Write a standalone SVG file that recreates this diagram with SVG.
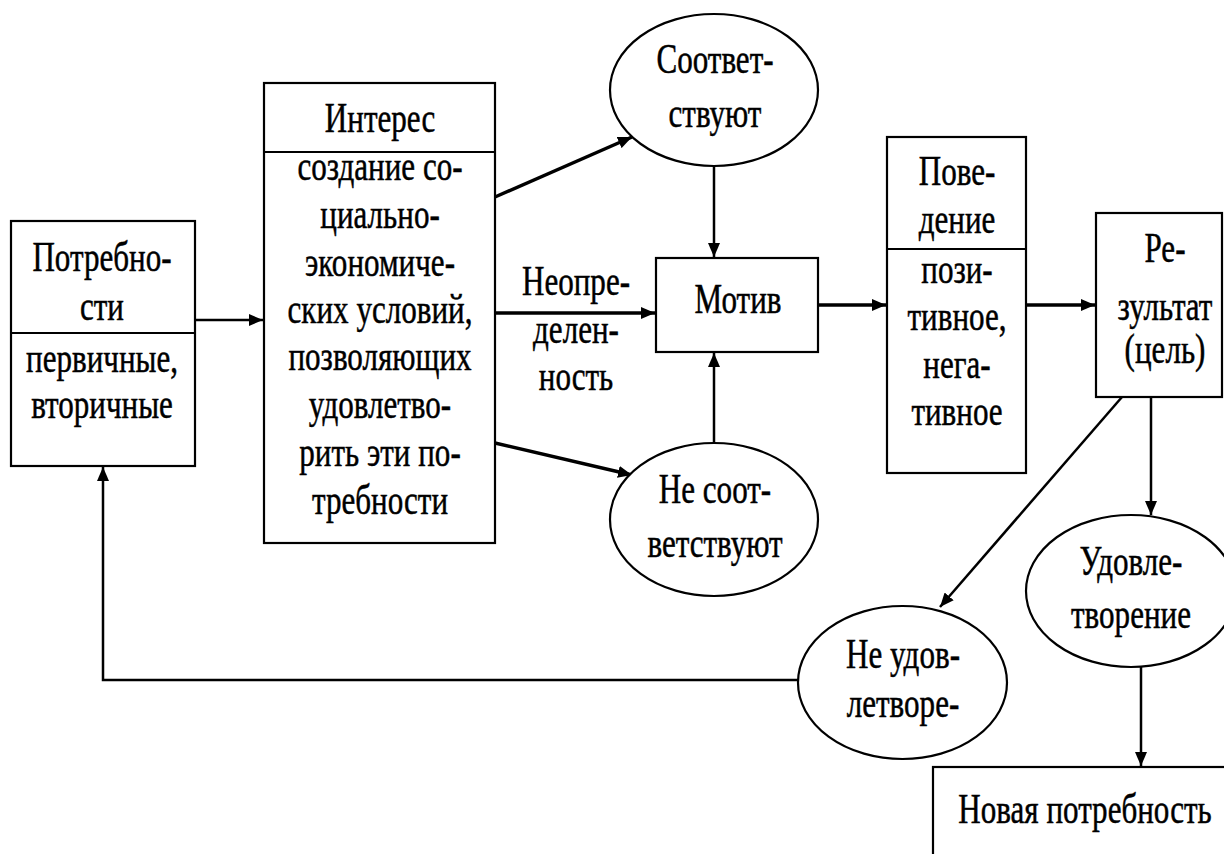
<svg xmlns="http://www.w3.org/2000/svg" width="1224" height="854" viewBox="0 0 1224 854">
<style>
.box{fill:#fff;stroke:#000;stroke-width:2.2}
.div{stroke:#000;stroke-width:2.2}
.t{font-family:"Liberation Serif","Times New Roman",serif;font-size:42px;fill:#000;stroke:#000;stroke-width:0.5;text-anchor:middle}
.c{fill:none;stroke:#000;stroke-width:2.5}
.ct{fill:none;stroke:#000;stroke-width:3.5}
</style>
<defs>
<marker id="ah" markerUnits="userSpaceOnUse" markerWidth="14" markerHeight="12" refX="14" refY="6" orient="auto">
<path d="M0,0 L14,6 L0,12 z" fill="#000"/>
</marker>
</defs>
<rect width="1224" height="854" fill="#fff"/>

<g id="connectors">
<path class="c" d="M195,320 L263,320" marker-end="url(#ah)"/>
<path class="ct" d="M495,197 L632,137" marker-end="url(#ah)"/>
<path class="ct" d="M495,313 L655,313" marker-end="url(#ah)"/>
<path class="ct" d="M495,443 L632,475" marker-end="url(#ah)"/>
<path class="c" d="M714,167 L714,257" marker-end="url(#ah)"/>
<path class="c" d="M714,443 L714,353" marker-end="url(#ah)"/>
<path class="ct" d="M818,305 L886,305" marker-end="url(#ah)"/>
<path class="ct" d="M1026,305 L1095,305" marker-end="url(#ah)"/>
<path class="c" d="M1151,397 L1151,515" marker-end="url(#ah)"/>
<path class="c" d="M1122,397 L940,607" marker-end="url(#ah)"/>
<path class="c" d="M1141,667 L1141,766" marker-end="url(#ah)"/>
<path class="c" d="M798,680 L103,680 L103,467" marker-end="url(#ah)"/>
</g>

<g id="label-neopr">
<g transform="translate(576,0) scale(0.74,1)">
<text class="t" x="0" y="295">Неопре-</text>
<text class="t" x="0" y="343">делен-</text>
<text class="t" x="0" y="390">ность</text>
</g>
</g>

<g id="node-potrebnosti">
<rect class="box" x="11" y="221" width="184" height="245"/>
<line class="div" x1="11" y1="333" x2="195" y2="333"/>
<g transform="translate(102,0) scale(0.74,1)">
<text class="t" x="0" y="271">Потребно-</text>
<text class="t" x="0" y="320">сти</text>
<text class="t" x="0" y="372">первичные,</text>
<text class="t" x="0" y="418">вторичные</text>
</g>
</g>

<g id="node-interes">
<rect class="box" x="264" y="83" width="231" height="460"/>
<line class="div" x1="264" y1="152" x2="495" y2="152"/>
<g transform="translate(380,0) scale(0.74,1)">
<text class="t" x="0" y="132">Интерес</text>
<text class="t" x="0" y="180">создание со-</text>
<text class="t" x="0" y="228">циально-</text>
<text class="t" x="0" y="276">экономиче-</text>
<text class="t" x="0" y="323">ских условий,</text>
<text class="t" x="0" y="370">позволяющих</text>
<text class="t" x="0" y="418">удовлетво-</text>
<text class="t" x="0" y="466">рить эти по-</text>
<text class="t" x="0" y="514">требности</text>
</g>
</g>

<g id="node-sootv">
<ellipse class="box" cx="714" cy="90" rx="104" ry="76"/>
<g transform="translate(715,0) scale(0.74,1)">
<text class="t" x="0" y="73">Соответ-</text>
<text class="t" x="0" y="127">ствуют</text>
</g>
</g>

<g id="node-nesootv">
<ellipse class="box" cx="714" cy="519.5" rx="104" ry="76.5"/>
<g transform="translate(715,0) scale(0.74,1)">
<text class="t" x="0" y="503">Не соот-</text>
<text class="t" x="0" y="557">ветствуют</text>
</g>
</g>

<g id="node-motiv">
<rect class="box" x="656" y="258" width="162" height="94"/>
<g transform="translate(738,0) scale(0.74,1)">
<text class="t" x="0" y="313">Мотив</text>
</g>
</g>

<g id="node-povedenie">
<rect class="box" x="887" y="137" width="139" height="336"/>
<line class="div" x1="887" y1="249" x2="1026" y2="249"/>
<g transform="translate(957,0) scale(0.74,1)">
<text class="t" x="0" y="185">Пове-</text>
<text class="t" x="0" y="233">дение</text>
<text class="t" x="0" y="283">пози-</text>
<text class="t" x="0" y="330">тивное,</text>
<text class="t" x="0" y="378">нега-</text>
<text class="t" x="0" y="425">тивное</text>
</g>
</g>

<g id="node-rezultat">
<rect class="box" x="1096" y="213" width="126" height="184"/>
<g transform="translate(1165,0) scale(0.74,1)">
<text class="t" x="0" y="262">Ре-</text>
<text class="t" x="0" y="320">зультат</text>
<text class="t" x="0" y="363">(цель)</text>
</g>
</g>

<g id="node-udovl">
<ellipse class="box" cx="1131" cy="591" rx="105" ry="76"/>
<g transform="translate(1131,0) scale(0.74,1)">
<text class="t" x="0" y="575">Удовле-</text>
<text class="t" x="0" y="628">творение</text>
</g>
</g>

<g id="node-neudovl">
<ellipse class="box" cx="902.5" cy="682.5" rx="104.5" ry="76.5"/>
<g transform="translate(903,0) scale(0.74,1)">
<text class="t" x="0" y="668">Не удов-</text>
<text class="t" x="0" y="717">летворе-</text>
</g>
</g>

<g id="node-novaya">
<rect class="box" x="933" y="767" width="304" height="110"/>
<g transform="translate(1085,0) scale(0.74,1)">
<text class="t" x="0" y="823">Новая потребность</text>
</g>
</g>
</svg>
